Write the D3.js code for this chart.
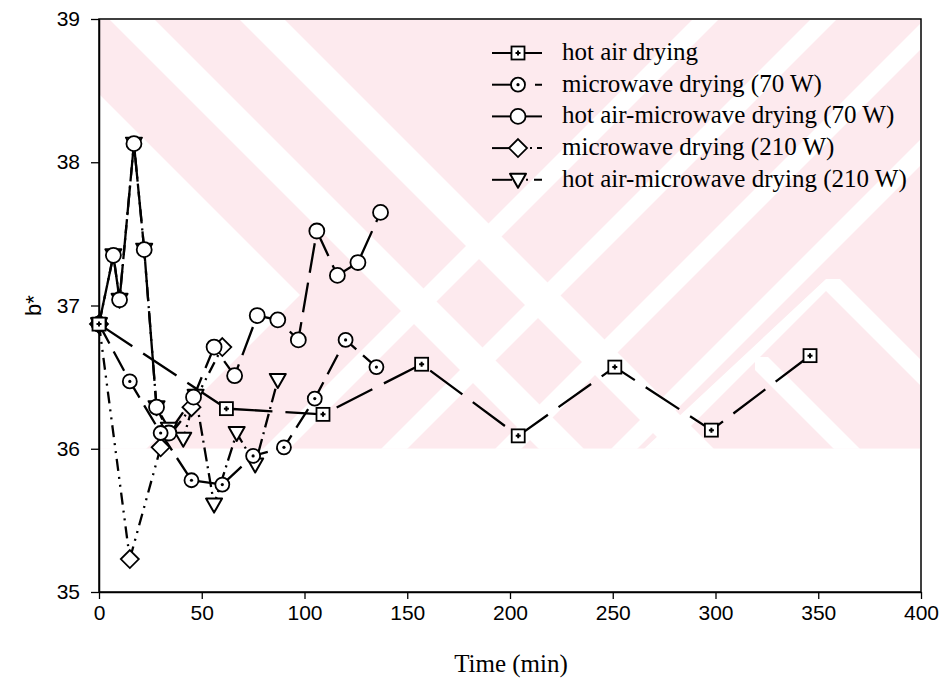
<!DOCTYPE html>
<html>
<head>
<meta charset="utf-8">
<script src="https://cdn.jsdelivr.net/npm/d3@7/dist/d3.min.js"></script>
<style>
  html, body { margin: 0; padding: 0; background: #fff; }
  svg { display: block; }
</style>
</head>
<body>
<svg id="chart" width="940" height="688"></svg>
<script>
// b* colour value during drying, five drying methods
const hotAirTime = [0, 62, 109, 157, 204, 251, 298, 346];
const hotAirB    = [36.87, 36.28, 36.24, 36.59, 36.09, 36.57, 36.13, 36.65];

const mw70Time = [0, 15, 30, 45, 60, 75, 90, 105, 120, 135];
const mw70B    = [36.87, 36.47, 36.11, 35.78, 35.75, 35.95, 36.01, 36.35, 36.76, 36.57];

const haMw70Time = [0, 7, 10, 17, 22, 28, 34, 46, 56, 66, 77, 87, 97, 106, 116, 126, 137];
const haMw70B    = [36.87, 37.35, 37.04, 38.13, 37.39, 36.29, 36.11, 36.36, 36.71, 36.51, 36.93, 36.90, 36.76, 37.52, 37.21, 37.30, 37.65];

const mw210Time = [0, 15, 30, 45, 60];
const mw210B    = [36.87, 35.23, 36.01, 36.29, 36.71];

const haMw210Time = [0, 7, 10, 17, 22, 28, 34, 41, 47, 56, 67, 76, 87];
const haMw210B    = [36.87, 37.35, 37.04, 38.13, 37.39, 36.29, 36.14, 36.07, 36.37, 35.61, 36.11, 35.89, 36.48];

const seriesNames = [
  "hot air drying",
  "microwave drying (70 W)",
  "hot air-microwave drying (70 W)",
  "microwave drying (210 W)",
  "hot air-microwave drying (210 W)"
];

const xTicks = [0, 50, 100, 150, 200, 250, 300, 350, 400];
const yTicks = [35, 36, 37, 38, 39];

const svg = d3.select("#chart");
const plotL = 99, plotR = 921, plotT = 19, plotB = 592;

const x = d3.scaleLinear().domain([0, 400]).range([plotL, plotR]);
const y = d3.scaleLinear().domain([35, 39]).range([plotB, plotT]);

// faint background emblem: pink field cut by white diagonal stripes and chevrons
svg.append("defs").append("clipPath").attr("id", "wmclip")
  .append("rect").attr("x", plotL + 1).attr("y", plotT + 1)
  .attr("width", plotR - plotL - 2).attr("height", y(36) - plotT - 1);
const wmg = svg.append("g").attr("clip-path", "url(#wmclip)");
wmg.append("rect").attr("x", plotL).attr("y", plotT)
  .attr("width", plotR - plotL).attr("height", y(36) - plotT)
  .attr("fill", "#fdeaee");
const white = pts => wmg.append("polygon").attr("points", pts).attr("fill", "#fff");
// white wedge in the lower-left corner
white("0,0 5,0 300,295 0,595");
// white stripes running down-right on the left
[90, 220].forEach(c => white(`${c},0 ${c + 45},0 ${c + 495},450 ${c + 450},450`));
// white stripes running down-left
[712, 830, 944, 1060].forEach(c => white(`${c},0 ${c + 26},0 ${c - 674},700 ${c - 700},700`));
// white chevron arms in the lower right
white("826,279 840,279 1040,479 1014,479 826,291 640,477 614,477");
white("755,357 768,357 900,489 874,489 755,370");

// axes frame
svg.append("rect").attr("x", plotL).attr("y", plotT)
  .attr("width", plotR - plotL).attr("height", plotB - plotT)
  .attr("fill", "none").attr("stroke", "#000").attr("stroke-width", 1.5);

const xAxis = d3.axisBottom(x).tickValues(xTicks).tickFormat(d3.format("d"))
  .tickSize(7).tickSizeOuter(0).tickPadding(6);
const gx = svg.append("g").attr("transform", `translate(0,${plotB})`).call(xAxis);
gx.select(".domain").attr("stroke-width", 1.5);
gx.selectAll(".tick line").attr("stroke-width", 1.3);
gx.selectAll("text").attr("font-family", "'Liberation Sans', Arial, sans-serif")
  .attr("font-size", 21).attr("fill", "#000");

const yAxis = d3.axisLeft(y).tickValues(yTicks).tickFormat(d3.format("d"))
  .tickSize(8).tickSizeOuter(0).tickPadding(11);
const gy = svg.append("g").attr("transform", `translate(${plotL},0)`).call(yAxis);
gy.select(".domain").attr("stroke-width", 1.5);
gy.selectAll(".tick line").attr("stroke-width", 1.3);
gy.selectAll("text").attr("font-family", "'Liberation Sans', Arial, sans-serif")
  .attr("font-size", 21).attr("fill", "#000");

svg.append("text").attr("x", 511).attr("y", 672)
  .attr("text-anchor", "middle")
  .attr("font-family", "'Liberation Serif', 'Times New Roman', serif")
  .attr("font-size", 25).text("Time (min)");

svg.append("text")
  .attr("transform", `translate(41,${y(37)}) rotate(-90)`)
  .attr("text-anchor", "middle")
  .attr("font-family", "'Liberation Sans', Arial, sans-serif")
  .attr("font-size", 22).text("b*");

// marker drawers
const markers = {
  square(g) {
    g.append("rect").attr("x", -6.5).attr("y", -6.5).attr("width", 13).attr("height", 13)
      .attr("fill", "#fff").attr("stroke", "#000").attr("stroke-width", 1.8);
    g.append("path").attr("d", "M-2.5,0H2.5M0,-2.5V2.5").attr("stroke", "#000").attr("stroke-width", 2);
  },
  dotCircle(g) {
    g.append("circle").attr("r", 7).attr("fill", "#fff").attr("stroke", "#000").attr("stroke-width", 1.8);
    g.append("circle").attr("r", 1.6).attr("fill", "#000");
  },
  circle(g) {
    g.append("circle").attr("r", 7.5).attr("fill", "#fff").attr("stroke", "#000").attr("stroke-width", 1.8);
  },
  diamond(g) {
    g.append("path").attr("d", "M0,-9L9,0L0,9L-9,0Z")
      .attr("fill", "#fff").attr("stroke", "#000").attr("stroke-width", 1.8);
  },
  triangle(g) {
    g.append("path").attr("d", "M-8,-6L8,-6L0,8Z")
      .attr("fill", "#fff").attr("stroke", "#000").attr("stroke-width", 2)
      .attr("stroke-linejoin", "round");
  }
};

const series = [
  { name: seriesNames[0], t: hotAirTime, b: hotAirB, marker: "square", dash: "40,13" },
  { name: seriesNames[1], t: mw70Time, b: mw70B, marker: "dotCircle", dash: "22,9" },
  { name: seriesNames[2], t: haMw70Time, b: haMw70B, marker: "circle", dash: "30,10" },
  { name: seriesNames[3], t: mw210Time, b: mw210B, marker: "diamond", dash: "12,6,2,6,2,6" },
  { name: seriesNames[4], t: haMw210Time, b: haMw210B, marker: "triangle", dash: "14,5,2,5" }
];

const line = d3.line().x(d => x(d[0])).y(d => y(d[1]));
const linesG = svg.append("g");
const marksG = svg.append("g");

series.forEach(s => {
  const pts = s.t.map((t, i) => [t, s.b[i]]);
  linesG.append("path").attr("d", line(pts)).attr("fill", "none")
    .attr("stroke", "#000").attr("stroke-width", 2.3)
    .attr("stroke-dasharray", s.dash);
});
// markers drawn after all lines so they sit on top
[...series].reverse().forEach(s => {
  s.t.forEach((t, i) => {
    const g = marksG.append("g").attr("transform", `translate(${x(t)},${y(s.b[i])})`);
    markers[s.marker](g);
  });
});

// legend
const legend = svg.append("g");
const legendRight = [null, "0,11,6", null, "0,6,2,5,2", "0,2,2,6,8"];
series.forEach((s, i) => {
  const ly = 53 + i * 31.7;
  const g = legend.append("g").attr("transform", `translate(0,${ly})`);
  g.append("line").attr("x1", 492).attr("x2", 512).attr("y1", 0).attr("y2", 0)
    .attr("stroke", "#000").attr("stroke-width", 2);
  const r = g.append("line").attr("x1", 524).attr("x2", 542).attr("y1", 0).attr("y2", 0)
    .attr("stroke", "#000").attr("stroke-width", 2);
  if (legendRight[i]) r.attr("stroke-dasharray", legendRight[i]);
  const mg = g.append("g").attr("transform", "translate(518,0)");
  markers[s.marker](mg);
  g.append("text").attr("x", 562).attr("y", 7)
    .attr("font-family", "'Liberation Serif', 'Times New Roman', serif")
    .attr("font-size", 25).text(s.name);
});
</script>
</body>
</html>
